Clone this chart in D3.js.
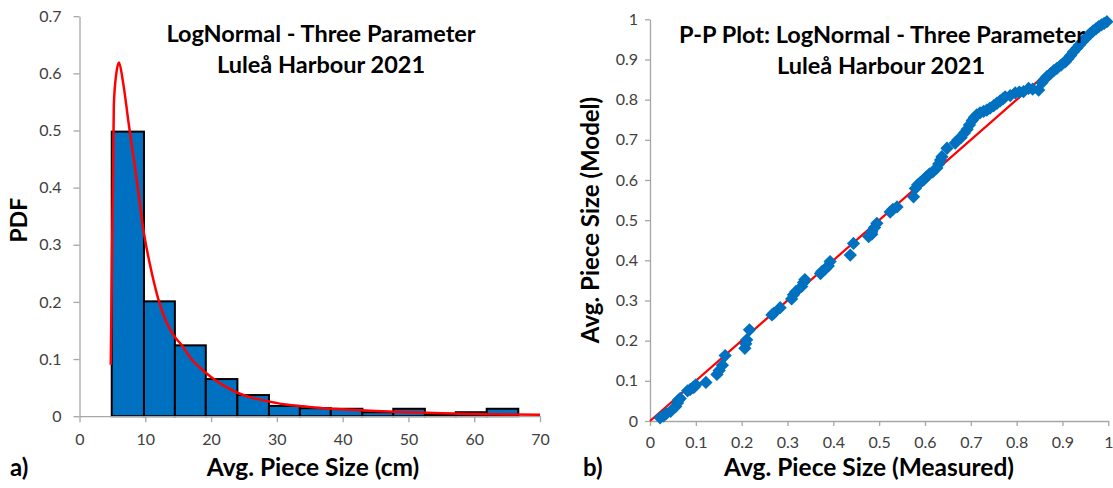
<!DOCTYPE html>
<html>
<head>
<meta charset="utf-8">
<script src="https://cdn.jsdelivr.net/npm/d3@7"></script>
<style>
  body { margin: 0; background: #fff; }
  text { font-family: Lato, "Open Sans", sans-serif; }
</style>
</head>
<body>
<div id="vis"></div>
<script>
// histogram bins (cm) and their pdf heights, read off panel a)
const binEdges = [4.9, 9.8, 14.5, 19.2, 24.0, 28.8, 33.5, 38.2, 43.0, 47.7, 52.5, 57.2, 61.9, 66.7];
const binPdf = [0.498, 0.201, 0.124, 0.065, 0.037, 0.018, 0.014, 0.013, 0.007, 0.013, 0.003, 0.007, 0.013];

// fitted lognormal curve
const curveX = [4.75, 5.22, 5.6, 6.0, 6.6, 7.5, 8.5, 9.8, 11, 12, 13, 14.4, 15.5, 17, 19.2, 20.4, 22, 24, 26, 28.7, 31, 33.4, 37, 40, 45, 50, 55, 60, 65, 70];
const curveY = [0.09, 0.545, 0.60, 0.619, 0.586, 0.51, 0.43, 0.32, 0.25, 0.204, 0.17, 0.14, 0.125, 0.10, 0.076, 0.065, 0.053, 0.041, 0.033, 0.026, 0.021, 0.018, 0.014, 0.012, 0.009, 0.007, 0.005, 0.004, 0.003, 0.0025];

const pdfTicks = [0, 0.1, 0.2, 0.3, 0.4, 0.5, 0.6, 0.7];
const sizeTicks = [0, 10, 20, 30, 40, 50, 60, 70];

// p-p plot: measured vs model cumulative probability
const ppMeasured = [0.022, 0.030, 0.036, 0.045, 0.056, 0.060, 0.062, 0.066, 0.082, 0.088, 0.094, 0.097, 0.100, 0.122, 0.146, 0.151, 0.158, 0.164, 0.207, 0.209, 0.211, 0.217, 0.266, 0.270, 0.284, 0.309, 0.313, 0.318, 0.331, 0.335, 0.338,
  0.372, 0.375, 0.382, 0.389, 0.393, 0.437, 0.444, 0.477, 0.484, 0.484, 0.490, 0.495, 0.524, 0.530, 0.539, 0.575,
  0.579, 0.584, 0.590, 0.597, 0.603, 0.610, 0.617, 0.626, 0.630, 0.634, 0.637, 0.648, 0.666, 0.672, 0.679, 0.686, 0.692, 0.697, 0.703, 0.708, 0.713, 0.720, 0.728, 0.735, 0.742, 0.750, 0.757, 0.764, 0.770, 0.775,
  0.786, 0.797, 0.806, 0.815, 0.826, 0.835, 0.848, 0.855, 0.861, 0.866, 0.874, 0.881, 0.888, 0.897, 0.906, 0.912, 0.918, 0.924, 0.931, 0.937, 0.943, 0.949, 0.955, 0.961, 0.967, 0.973, 0.979, 0.985, 0.991, 0.997];
const ppModel = [0.008, 0.013, 0.019, 0.024, 0.036, 0.045, 0.052, 0.056, 0.075, 0.079, 0.083, 0.085, 0.090, 0.096, 0.116, 0.126, 0.139, 0.163, 0.181, 0.192, 0.202, 0.227, 0.264, 0.268, 0.282, 0.304, 0.314, 0.322, 0.335, 0.345, 0.352,
  0.367, 0.372, 0.378, 0.386, 0.397, 0.413, 0.442, 0.459, 0.465, 0.471, 0.482, 0.492, 0.520, 0.527, 0.533, 0.558,
  0.579, 0.588, 0.594, 0.600, 0.608, 0.615, 0.620, 0.630, 0.640, 0.650, 0.658, 0.679, 0.692, 0.700, 0.706, 0.717, 0.726, 0.737, 0.748, 0.756, 0.762, 0.767, 0.771, 0.774, 0.779, 0.785, 0.791, 0.797, 0.802, 0.807,
  0.810, 0.817, 0.819, 0.820, 0.828, 0.826, 0.824, 0.842, 0.851, 0.857, 0.865, 0.872, 0.878, 0.886, 0.894, 0.902, 0.910, 0.919, 0.928, 0.936, 0.944, 0.951, 0.958, 0.965, 0.971, 0.976, 0.982, 0.986, 0.990, 0.994];
const refLine = [0, 1];
const probTicks = [0, 0.1, 0.2, 0.3, 0.4, 0.5, 0.6, 0.7, 0.8, 0.9, 1];

const width = 1113;
const height = 488;
const axisColor = '#a6a6a6';
const labelColor = '#404040';

const svg = d3.select('#vis')
  .append('svg')
  .attr('width', width)
  .attr('height', height);

svg.append('rect').attr('width', width).attr('height', height).attr('fill', '#fff');

// style an axis group like the excel one
const styleAxis = (g) => {
  g.select('.domain').attr('stroke', axisColor).attr('stroke-width', 1.3);
  g.selectAll('.tick line').attr('stroke', axisColor).attr('stroke-width', 1.3);
  g.selectAll('.tick text').attr('fill', labelColor).style('font-size', '16px');
};

// ---------- panel a) histogram ----------
const xA = d3.scaleLinear().domain([0, 70]).range([79.5, 540]);
const yA = d3.scaleLinear().domain([0, 0.7]).range([416.2, 16.2]);

const bins = binPdf.map((v, i) => ({ x0: binEdges[i], x1: binEdges[i + 1], v: v }));

svg.append('g')
  .selectAll('rect')
  .data(bins)
  .enter()
  .append('rect')
  .attr('x', d => xA(d.x0))
  .attr('y', d => yA(d.v))
  .attr('width', d => xA(d.x1) - xA(d.x0))
  .attr('height', d => yA(0) - yA(d.v))
  .attr('fill', '#0070c0')
  .attr('stroke', '#000')
  .attr('stroke-width', 2);

svg.append('g')
  .attr('transform', 'translate(0,' + yA(0) + ')')
  .call(d3.axisBottom(xA).tickValues(sizeTicks).tickSize(6).tickPadding(11).tickSizeOuter(0))
  .call(styleAxis);

svg.append('g')
  .attr('transform', 'translate(' + xA(0) + ',0)')
  .call(d3.axisLeft(yA).tickValues(pdfTicks).tickSize(6).tickPadding(12).tickSizeOuter(0).tickFormat(d => d === 0 ? '0' : d3.format('.1f')(d)))
  .call(styleAxis);

// red fitted curve drawn over the bars
const lineA = d3.line()
  .x((d, i) => xA(curveX[i]))
  .y((d, i) => yA(curveY[i]))
  .curve(d3.curveMonotoneX);

svg.append('path')
  .datum(curveX)
  .attr('d', lineA)
  .attr('fill', 'none')
  .attr('stroke', '#ff0000')
  .attr('stroke-width', 2.5);

// titles
const titleA = svg.append('text')
  .attr('text-anchor', 'middle')
  .attr('font-weight', 'bold')
  .style('font-size', '23.5px');
titleA.append('tspan').attr('x', 321).attr('y', 42).text('LogNormal - Three Parameter');
titleA.append('tspan').attr('x', 321).attr('y', 73).text('Luleå Harbour 2021');

svg.append('text')
  .attr('transform', 'translate(27,220) rotate(-90)')
  .attr('text-anchor', 'middle')
  .attr('font-weight', 'bold')
  .style('font-size', '23px')
  .text('PDF');

svg.append('text')
  .attr('x', 313).attr('y', 476)
  .attr('text-anchor', 'middle')
  .attr('font-weight', 'bold')
  .style('font-size', '24.5px')
  .text('Avg. Piece Size (cm)');

svg.append('text')
  .attr('x', 10).attr('y', 476)
  .attr('font-weight', 'bold')
  .style('font-size', '24px')
  .text('a)');

// ---------- panel b) p-p plot ----------
const xB = d3.scaleLinear().domain([0, 1]).range([650, 1108.3]);
const yB = d3.scaleLinear().domain([0, 1]).range([421, 19.3]);

svg.append('g')
  .attr('transform', 'translate(0,' + yB(0) + ')')
  .call(d3.axisBottom(xB).tickValues(probTicks).tickSize(5).tickPadding(11).tickSizeOuter(0).tickFormat(d3.format('~g')))
  .call(styleAxis);

svg.append('g')
  .attr('transform', 'translate(' + xB(0) + ',0)')
  .call(d3.axisLeft(yB).tickValues(probTicks).tickSize(5).tickPadding(7).tickSizeOuter(0).tickFormat(d3.format('~g')))
  .call(styleAxis);

svg.append('line')
  .attr('x1', xB(refLine[0])).attr('y1', yB(refLine[0]))
  .attr('x2', xB(refLine[1])).attr('y2', yB(refLine[1]))
  .attr('stroke', '#ff0000')
  .attr('stroke-width', 2.2);

// excel style diamond markers: a square turned 45 degrees
const diamond = d3.symbol().type(d3.symbolSquare).size(88);

svg.append('g')
  .selectAll('path')
  .data(ppMeasured)
  .enter()
  .append('path')
  .attr('d', diamond)
  .attr('transform', (d, i) => 'translate(' + xB(d) + ',' + yB(ppModel[i]) + ') rotate(45)')
  .attr('fill', '#0070c0');

const titleB = svg.append('text')
  .attr('text-anchor', 'middle')
  .attr('font-weight', 'bold')
  .style('font-size', '23.5px');
titleB.append('tspan').attr('x', 882).attr('y', 43).text('P-P Plot: LogNormal - Three Parameter');
titleB.append('tspan').attr('x', 881).attr('y', 74).text('Luleå Harbour 2021');

svg.append('text')
  .attr('transform', 'translate(599,220) rotate(-90)')
  .attr('text-anchor', 'middle')
  .attr('font-weight', 'bold')
  .style('font-size', '24px')
  .text('Avg. Piece Size (Model)');

svg.append('text')
  .attr('x', 869).attr('y', 476)
  .attr('text-anchor', 'middle')
  .attr('font-weight', 'bold')
  .style('font-size', '24.5px')
  .text('Avg. Piece Size (Measured)');

svg.append('text')
  .attr('x', 583).attr('y', 476)
  .attr('font-weight', 'bold')
  .style('font-size', '24px')
  .text('b)');
</script>
</body>
</html>
